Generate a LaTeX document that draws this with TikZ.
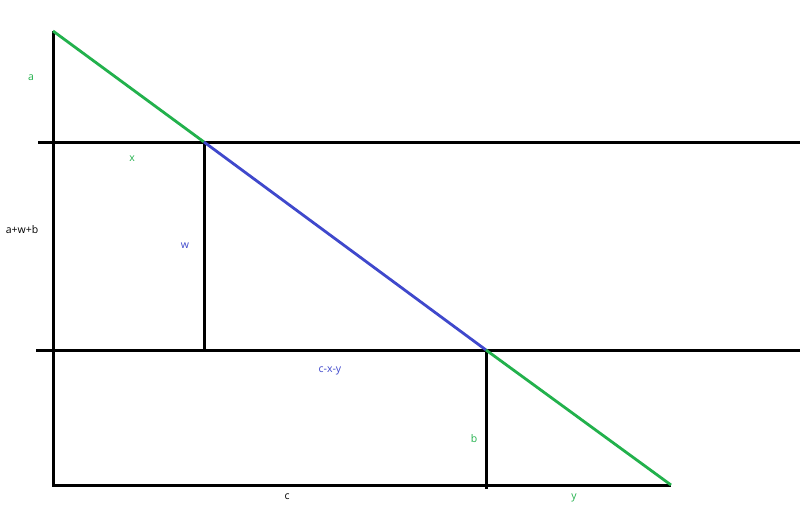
\documentclass[tikz,border=0pt]{standalone}
\usepackage{fontspec}
\setmainfont{Open Sans}
\definecolor{pgreen}{RGB}{34,177,76}
\definecolor{pblue}{RGB}{63,72,204}
\begin{document}
\begin{tikzpicture}[x=1pt,y=-1pt,
  blk/.style={line width=3pt,black},
  grn/.style={line width=2.8pt,pgreen},
  blu/.style={line width=2.8pt,pblue},
  lbl/.style={font=\fontsize{10.5}{12}\selectfont,inner sep=0pt}]
\useasboundingbox[fill=white] (0,0) rectangle (800,504);
% points
\coordinate (T) at (53,31);
\coordinate (P1) at (204,142);
\coordinate (P2) at (486,350);
\coordinate (E) at (671,485);
\coordinate (BL) at (53,485);
\coordinate (H1l) at (38,142);
\coordinate (H1r) at (800,142);
\coordinate (H2l) at (36,350);
\coordinate (H2r) at (800,350);
\coordinate (W1) at (204,350);
\coordinate (B1) at (486,489);
% black lines
\draw[blk] (H1l) -- (H1r);
\draw[blk] (H2l) -- (H2r);
\draw[blk] (T) -- (BL) -- (E);
\draw[blk] (P1) -- (W1);
\draw[blk] (P2) -- (B1);
% hypotenuse
\draw[grn] (T) -- (P1);
\draw[blu] (P1) -- (P2);
\draw[grn] (P2) -- (E);
% labels
\node[lbl,text=pgreen] (la) at (31,78) {a};
\node[lbl,text=pgreen] (lx) at (132,159) {x};
\node[lbl] (lawb) at (22,230) {a+w+b};
\node[lbl,text=pblue] (lw) at (185,246) {w};
\node[lbl,text=pblue] (lcxy) at (330,371) {c-x-y};
\node[lbl,text=pgreen] (lb) at (474,439) {b};
\node[lbl] (lc) at (287,497) {c};
\node[lbl,text=pgreen] (ly) at (574,498) {y};
\end{tikzpicture}
\end{document}
